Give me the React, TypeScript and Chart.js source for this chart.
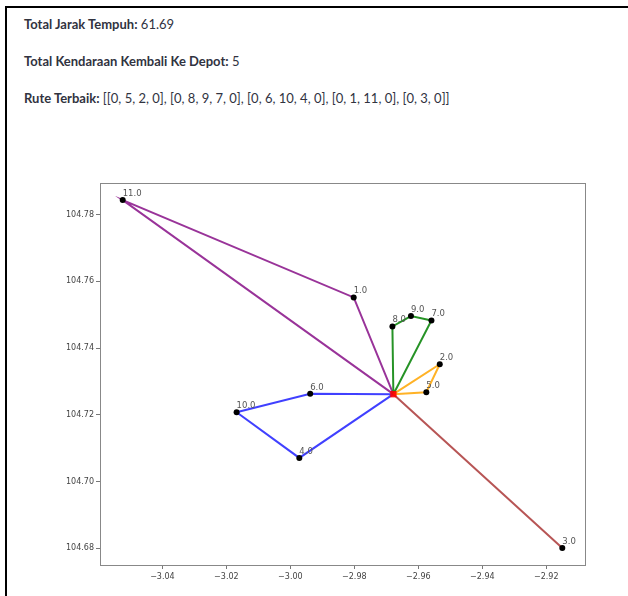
import React, { useEffect, useRef } from "react";
import { Chart, registerables } from "chart.js";

Chart.register(...registerables);

// Node coordinates (index = node id; 0 = depot)
const nodeIds = [0, 1, 2, 3, 4, 5, 6, 7, 8, 9, 10, 11];
const nodeX = [-2.9678, -2.9802, -2.9533, -2.915, -2.9972, -2.9575, -2.9938, -2.9559, -2.9681, -2.9623, -3.0168, -3.0524];
const nodeY = [104.7262, 104.7552, 104.7352, 104.6801, 104.7071, 104.7268, 104.7263, 104.7483, 104.7465, 104.7496, 104.7208, 104.7844];

// Best routes
const route1 = [0, 5, 2, 0];
const route2 = [0, 8, 9, 7, 0];
const route3 = [0, 6, 10, 4, 0];
const route4 = [0, 1, 11, 0];
const route5 = [0, 3, 0];
const routes = [route1, route2, route3, route4, route5];
const routeColors = ["rgba(255,165,0,0.85)", "rgba(0,128,0,0.85)", "rgba(0,0,255,0.75)", "rgba(128,0,128,0.8)", "rgba(165,42,42,0.8)"];

// Axis ticks
const xTicks = [-3.04, -3.02, -3.0, -2.98, -2.96, -2.94, -2.92];
const yTicks = [104.68, 104.7, 104.72, 104.74, 104.76, 104.78];
const xMin = -3.0595, xMax = -2.9079;
const yMin = 104.675, yMax = 104.7895;

const totalDistance = "61.69";
const totalVehicles = "5";

const fmt = (v: number) => v.toFixed(2).replace("-", "\u2212");

const boxPlugin = {
  id: "boxPlugin",
  afterDatasetsDraw(chart: any) {
    const { ctx, chartArea, scales } = chart;
    ctx.save();
    ctx.strokeStyle = "#888";
    ctx.lineWidth = 1;
    ctx.strokeRect(chartArea.left + 0.5, chartArea.top + 0.5, chartArea.right - chartArea.left, chartArea.bottom - chartArea.top);
    ctx.fillStyle = "#555";
    ctx.font = "8.5px 'DejaVu Sans'";
    ctx.textAlign = "left";
    ctx.textBaseline = "alphabetic";
    nodeIds.forEach((id) => {
      if (id === 0) return;
      const px = scales.x.getPixelForValue(nodeX[id]);
      const py = scales.y.getPixelForValue(nodeY[id]);
      ctx.fillText(id.toFixed(1), px, py - 4);
    });
    ctx.restore();
  },
};

export default function App() {
  const ref = useRef<HTMLCanvasElement>(null);
  useEffect(() => {
    if (!ref.current) return;
    const datasets: any[] = routes.map((r, i) => ({
      data: r.map((id) => ({ x: nodeX[id], y: nodeY[id] })),
      showLine: true,
      borderColor: routeColors[i],
      borderWidth: 2,
      pointRadius: 0,
      fill: false,
      order: 3,
    }));
    datasets.push({
      data: nodeIds.filter((id) => id !== 0).map((id) => ({ x: nodeX[id], y: nodeY[id] })),
      showLine: false,
      pointRadius: 3,
      pointBackgroundColor: "#000",
      pointBorderColor: "#000",
      borderWidth: 0,
      order: 2,
    });
    datasets.push({
      data: [{ x: nodeX[0], y: nodeY[0] }],
      showLine: false,
      pointStyle: "rect",
      pointRadius: 4.5,
      pointBackgroundColor: "rgba(255,0,0,0.9)",
      pointBorderColor: "rgba(255,0,0,0.9)",
      borderWidth: 0,
      order: 1,
    });
    const chart = new Chart(ref.current, {
      type: "scatter",
      data: { datasets },
      options: {
        animation: false,
        responsive: false,
        layout: { padding: { left: 0, right: 15, top: 13, bottom: 0 } },
        plugins: { legend: { display: false }, tooltip: { enabled: false } },
        scales: {
          x: {
            type: "linear",
            min: xMin,
            max: xMax,
            afterBuildTicks: (s: any) => { s.ticks = xTicks.map((v) => ({ value: v })); },
            afterFit: (s: any) => { s.height = 25; },
            ticks: { callback: (v: any) => fmt(Number(v)), font: { family: "'DejaVu Sans'", size: 8 }, color: "#444", padding: 3, maxRotation: 0 },
            grid: { drawOnChartArea: false, drawTicks: true, tickLength: 4, color: "#777", tickColor: "#777" },
            border: { display: false },
          },
          y: {
            type: "linear",
            min: yMin,
            max: yMax,
            afterBuildTicks: (s: any) => { s.ticks = yTicks.map((v) => ({ value: v })); },
            afterFit: (s: any) => { s.width = 60; },
            ticks: { callback: (v: any) => fmt(Number(v)), font: { family: "'DejaVu Sans'", size: 8 }, color: "#444", padding: 2 },
            grid: { drawOnChartArea: false, drawTicks: true, tickLength: 4, color: "#777", tickColor: "#777" },
            border: { display: false },
          },
        },
      },
      plugins: [boxPlugin],
    });
    return () => chart.destroy();
  }, []);

  const textStyle: React.CSSProperties = {
    position: "absolute",
    left: 24,
    fontFamily: "'Source Sans Pro', Lato, 'Noto Sans', sans-serif",
    fontSize: 13,
    lineHeight: "16px",
    color: "#31333f",
    whiteSpace: "nowrap",
    margin: 0,
  };

  return (
    <div>
      <div style={{ position: "absolute", left: 5, top: 6, width: 623, height: 590, borderLeft: "2px solid #000", borderTop: "2px solid #000", boxSizing: "border-box" }} />
      <div style={{ ...textStyle, top: 16 }}><b>Total Jarak Tempuh:</b> {totalDistance}</div>
      <div style={{ ...textStyle, top: 53 }}><b>Total Kendaraan Kembali Ke Depot:</b> {totalVehicles}</div>
      <div style={{ ...textStyle, top: 90 }}><b>Rute Terbaik:</b> {JSON.stringify(routes).replace(/,/g, ", ")}</div>
      <canvas ref={ref} width={560} height={420} style={{ position: "absolute", left: 40, top: 170, width: 560, height: 420 }} />
    </div>
  );
}
